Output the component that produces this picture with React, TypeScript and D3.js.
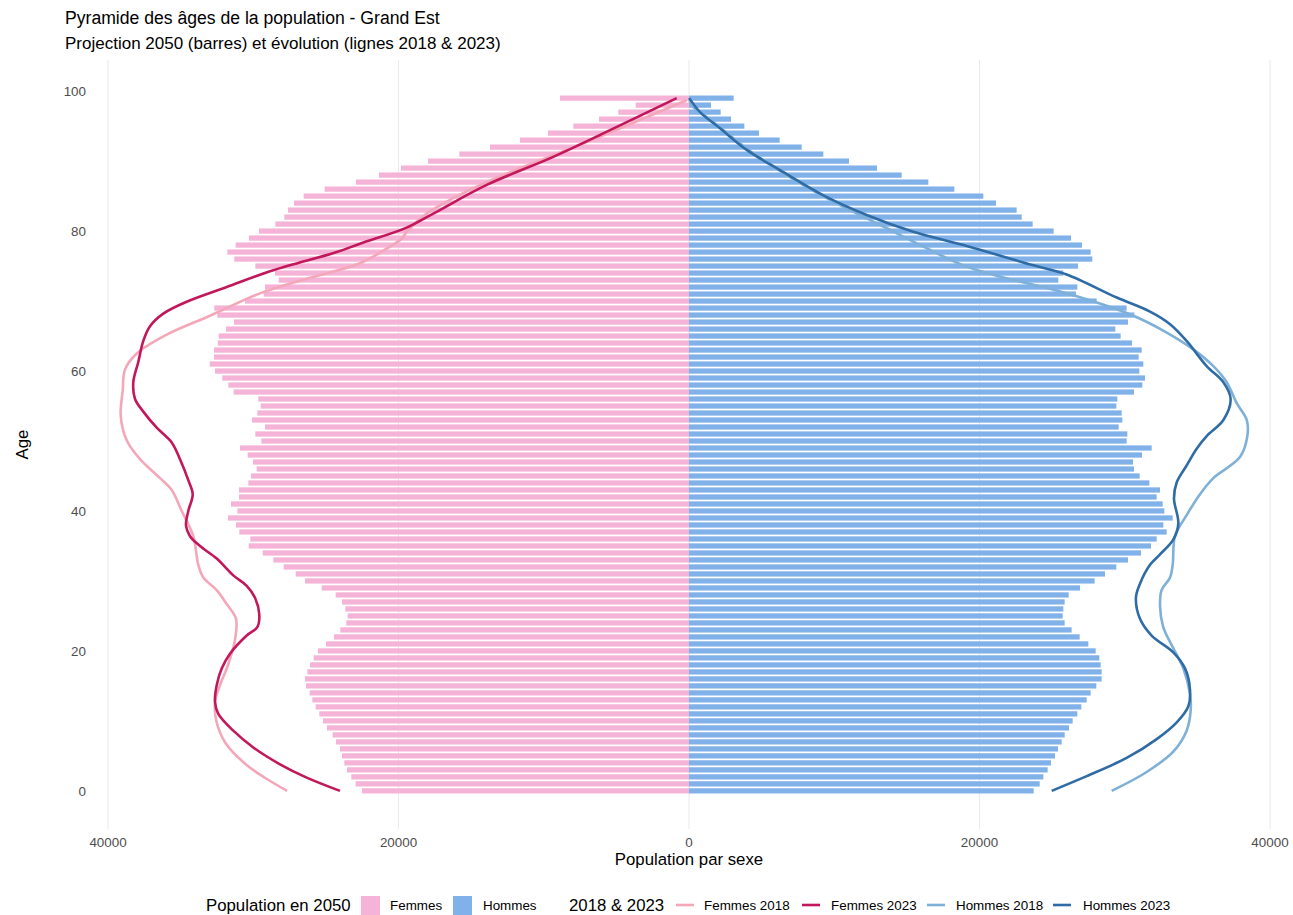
import React from "react";
import * as d3 from "d3";

// ---------- DATA ----------
const ages: number[] = Array.from({ length: 100 }, (_, i) => i);

const femmes2050: number[] = [
  22513, 22949, 23247, 23546, 23729, 23890, 24028, 24303, 24532, 24923,
  25198, 25450, 25703, 25932, 26116, 26368, 26437, 26276, 26093, 25839,
  25542, 24991, 24441, 24005, 23592, 23500, 23661, 23890, 24326, 25289,
  26437, 27079, 27906, 28617, 29350, 30314, 30201, 30958, 31188, 31738,
  31096, 31532, 30981, 30981, 30338, 30155, 29765, 30017, 30384, 30912,
  29446, 29857, 29191, 30086, 29721, 29487, 29652, 31348, 31718, 32131,
  32633, 32998, 32702, 32702, 32448, 32379, 31876, 31325, 32475, 32682,
  30568, 29283, 29191, 28250, 28502, 29857, 31302, 31784, 31210, 30293,
  29604, 28480, 27861, 27608, 27194, 26530, 25083, 22926, 21343, 19828,
  17969, 15812, 13701, 11635, 9707, 7964, 6196, 4867, 3670, 8881,
];

const hommes2050: number[] = [
  23729, 24142, 24395, 24693, 24923, 25198, 25404, 25656, 25863, 26162,
  26414, 26735, 27010, 27378, 27653, 28043, 28411, 28411, 28342, 28250,
  27998, 27493, 26896, 26345, 25863, 25726, 25771, 25863, 26139, 26919,
  27929, 28640, 29421, 30224, 31119, 31807, 32198, 32885, 32657, 33300,
  32725, 32610, 32198, 32427, 31693, 31027, 30637, 30568, 31188, 31853,
  30131, 30178, 29582, 29834, 29788, 29421, 29490, 30637, 31211, 31394,
  31004, 31279, 30958, 31165, 30499, 29719, 29352, 30224, 30660, 30131,
  28066, 26644, 26735, 25427, 25771, 26781, 27768, 27653, 27056, 26299,
  25106, 23660, 22904, 22559, 21136, 20264, 18268, 16477, 14642, 12943,
  11015, 9249, 7757, 6242, 4819, 3810, 2892, 2180, 1515, 3075,
];

// Lines (age, population)
const femmes2018Ages: number[] = [0, 1.8, 3.8, 6.8, 9.8, 12.7, 15.1, 18.1, 21.6, 24.6, 26.7, 28.7, 30.5, 32.3, 36.4, 40, 43, 44.7, 47.4, 50.1, 53.6, 57.2, 60.2, 62.5, 65.2, 67.9, 71.1, 73.2, 75.4, 77.5, 78.9, 79.9, 82.5, 84.7, 87, 89.9, 93.7, 98.7];
const femmes2018Vals: number[] = [27676, 29140, 30520, 31900, 32520, 32630, 32289, 31718, 31256, 31188, 31828, 32517, 33439, 33783, 34127, 34926, 35614, 36420, 37797, 38713, 39126, 38988, 38830, 38024, 35959, 32978, 29535, 26320, 22650, 20810, 19780, 19440, 18060, 16230, 13930, 10490, 5900, 160];

const femmes2023Ages: number[] = [0, 1.9, 3.8, 6.2, 8.6, 11, 12.7, 15.1, 17.5, 19.6, 22.2, 23.4, 25.2, 27.6, 29.3, 30.8, 33.2, 35, 36.4, 37.9, 40, 42.4, 44.4, 47.4, 49.8, 51.9, 54.2, 56, 58.4, 61.3, 64.3, 66.4, 68.2, 69.9, 72, 74.4, 77, 78.2, 80.5, 82.5, 86.6, 90.6, 95.1, 99];
const femmes2023Vals: number[] = [24028, 26320, 28158, 29997, 31374, 32406, 32633, 32517, 32172, 31601, 30451, 29721, 29584, 29880, 30451, 31374, 32517, 33666, 34355, 34630, 34472, 34169, 34472, 35043, 35615, 36647, 37570, 38141, 38258, 37914, 37570, 37108, 36193, 34582, 31828, 28620, 24255, 22651, 19436, 17604, 13928, 9343, 4750, 847];

const hommes2018Ages: number[] = [0, 2.7, 5.6, 8.6, 11.5, 13.9, 17.5, 20.4, 23.4, 26.4, 28.7, 30.5, 32.3, 36.4, 39.4, 42.4, 44.7, 47.7, 50.7, 53, 55.4, 58.4, 60.7, 63.1, 65.5, 67.9, 71.1, 73.5, 75.1, 78.5, 80.9, 84.2, 88, 91.8, 95.6, 98, 99];
const hommes2018Vals: number[] = [29100, 31510, 33340, 34260, 34540, 34490, 34030, 33340, 32650, 32430, 32540, 33120, 33300, 33460, 34260, 35180, 36100, 37930, 38440, 38400, 37710, 37020, 36100, 34720, 32890, 30590, 26000, 21410, 18890, 15440, 13150, 9940, 6730, 3970, 1670, 180, 20];

const hommes2023Ages: number[] = [0, 2.1, 4.7, 7.4, 9.8, 12.1, 14.5, 17.5, 19.8, 22.2, 24.6, 27.6, 29.6, 32.3, 33.8, 35.9, 38.2, 41.8, 44.1, 46.5, 48.9, 50.7, 53, 56, 58.4, 60.7, 64.3, 66.7, 68.5, 70.5, 73.8, 75.1, 78, 79.9, 82.3, 85.1, 88.7, 91.6, 94.7, 97, 99];
const hommes2023Vals: number[] = [24970, 27380, 30130, 32200, 33580, 34380, 34490, 34150, 33340, 31850, 31050, 30770, 31050, 31740, 32430, 33340, 33690, 33390, 33580, 34260, 34950, 35640, 36790, 37290, 36790, 35640, 34260, 33120, 31740, 29450, 26000, 23710, 18890, 15440, 12230, 9250, 6270, 3970, 2130, 760, 20];

const xTicks: number[] = [-40000, -20000, 0, 20000, 40000];
const yTicks: number[] = [0, 20, 40, 60, 80, 100];

const title = "Pyramide des âges de la population - Grand Est";
const subtitle = "Projection 2050 (barres) et évolution (lignes 2018 & 2023)";

// ---------- STYLE ----------
const W = 1293;
const H = 915;
const FONT = "'Liberation Sans', Arial, Helvetica, sans-serif";
const colFemmesBar = "#F5B3D7";
const colHommesBar = "#81B1E9";
const colF2018 = "#F4A7B9";
const colF2023 = "#C2185B";
const colH2018 = "#7EB0D8";
const colH2023 = "#2F6CA5";

export default function App() {
  const x = d3.scaleLinear().domain([-41033, 41033]).range([93, 1285]);
  const y = d3.scaleLinear().domain([-5.45, 104.45]).range([829, 60]);
  const bw = 0.75 * Math.abs(y(1) - y(0));

  const lineGen = d3
    .line<[number, number]>()
    .x((d) => x(d[1]))
    .y((d) => y(d[0]))
    .curve(d3.curveCatmullRom.alpha(0.5));

  const mk = (a: number[], v: number[], sign: number): [number, number][] =>
    a.map((ag, i) => [ag, sign * v[i]]);

  const lines = [
    { d: mk(femmes2018Ages, femmes2018Vals, -1), c: colF2018 },
    { d: mk(femmes2023Ages, femmes2023Vals, -1), c: colF2023 },
    { d: mk(hommes2018Ages, hommes2018Vals, 1), c: colH2018 },
    { d: mk(hommes2023Ages, hommes2023Vals, 1), c: colH2023 },
  ];

  const legendY = 905;

  return (
    <svg
      width={W}
      height={H}
      style={{ position: "absolute", left: 0, top: 0, background: "#fff" }}
      fontFamily={FONT}
    >
      <rect x={0} y={0} width={W} height={H} fill="#fff" />
      {/* grid */}
      {xTicks.map((t) => (
        <line
          key={"g" + t}
          x1={x(t)}
          x2={x(t)}
          y1={y(104.45)}
          y2={y(-5.45)}
          stroke="#EBEBEB"
          strokeWidth={1.1}
        />
      ))}
      {/* bars */}
      {ages.map((a, i) => (
        <rect
          key={"f" + a}
          x={x(-femmes2050[i])}
          y={y(a) - bw / 2}
          width={x(0) - x(-femmes2050[i])}
          height={bw}
          fill={colFemmesBar}
        />
      ))}
      {ages.map((a, i) => (
        <rect
          key={"h" + a}
          x={x(0)}
          y={y(a) - bw / 2}
          width={x(hommes2050[i]) - x(0)}
          height={bw}
          fill={colHommesBar}
        />
      ))}
      {/* lines */}
      {lines.map((l, i) => (
        <path
          key={"l" + i}
          d={lineGen(l.d) || ""}
          fill="none"
          stroke={l.c}
          strokeWidth={2.6}
          strokeLinecap="butt"
        />
      ))}
      {/* x tick labels */}
      {xTicks.map((t) => (
        <text
          key={"xt" + t}
          x={x(t)}
          y={847}
          textAnchor="middle"
          fontSize={13.4}
          fill="#4D4D4D"
        >
          {Math.abs(t)}
        </text>
      ))}
      {/* y tick labels */}
      {yTicks.map((t) => (
        <text
          key={"yt" + t}
          x={86}
          y={y(t) + 4.7}
          textAnchor="end"
          fontSize={13.4}
          fill="#4D4D4D"
        >
          {t}
        </text>
      ))}
      {/* axis titles */}
      <text x={x(0)} y={865} textAnchor="middle" fontSize={16.8} fill="#000">
        Population par sexe
      </text>
      <text
        transform={`translate(28, ${(y(104.45) + y(-5.45)) / 2}) rotate(-90)`}
        textAnchor="middle"
        fontSize={16.8}
        fill="#000"
      >
        Age
      </text>
      {/* titles */}
      <text x={65} y={24} fontSize={17.6} fill="#000">
        {title}
      </text>
      <text x={65} y={49} fontSize={17} fill="#000">
        {subtitle}
      </text>
      {/* legend */}
      <text x={206} y={legendY + 6} fontSize={16.8} fill="#000">
        Population en 2050
      </text>
      <rect x={361} y={legendY - 9} width={19} height={19} fill={colFemmesBar} />
      <text x={390} y={legendY + 4.7} fontSize={13.4} fill="#000">
        Femmes
      </text>
      <rect x={453} y={legendY - 9} width={19} height={19} fill={colHommesBar} />
      <text x={483} y={legendY + 4.7} fontSize={13.4} fill="#000">
        Hommes
      </text>
      <text x={569} y={legendY + 6} fontSize={16.8} fill="#000">
        2018 &amp; 2023
      </text>
      {[
        { x0: 676, c: colF2018, t: "Femmes 2018", tx: 704 },
        { x0: 802, c: colF2023, t: "Femmes 2023", tx: 831 },
        { x0: 927, c: colH2018, t: "Hommes 2018", tx: 956 },
        { x0: 1053, c: colH2023, t: "Hommes 2023", tx: 1083 },
      ].map((k) => (
        <g key={k.t}>
          <line
            x1={k.x0}
            x2={k.x0 + 18}
            y1={legendY}
            y2={legendY}
            stroke={k.c}
            strokeWidth={2.6}
          />
          <text x={k.tx} y={legendY + 4.7} fontSize={13.4} fill="#000">
            {k.t}
          </text>
        </g>
      ))}
    </svg>
  );
}
